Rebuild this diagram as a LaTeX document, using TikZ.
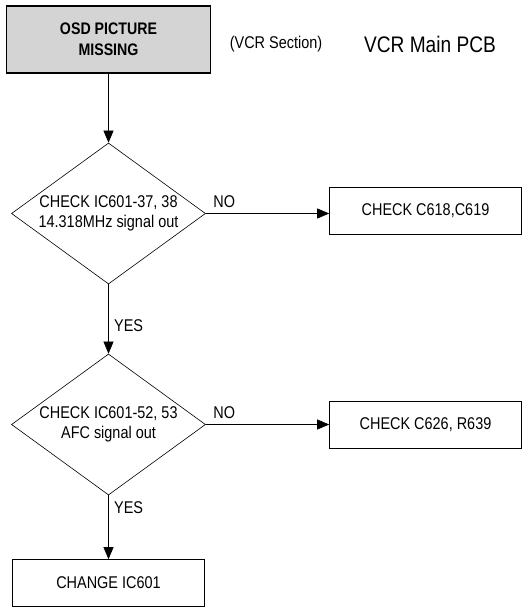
\documentclass[tikz,border=0pt]{standalone}
\usepackage{fontspec}
\setmainfont[FakeStretch=0.85]{Liberation Sans}
\usetikzlibrary{positioning,shapes.geometric,arrows.meta}

\tikzset{
  flow/.style={draw, line width=0.6pt, inner sep=0pt, align=center, font=\fontsize{17}{20}\selectfont},
  startbox/.style={flow, line width=1.6pt, fill=black!17, minimum width=204pt, minimum height=67pt, font=\fontsize{16.7}{21}\selectfont\bfseries},
  checkbox/.style={flow, minimum width=192pt, minimum height=47pt},
  decision/.style={flow, diamond, aspect=1.376, minimum width=194pt, minimum height=141pt},
  tip/.style={line width=0.6pt, -{Triangle[length=12pt,width=10pt]}},
  lbl/.style={font=\fontsize{17}{20}\selectfont}
}

\begin{document}
\begin{tikzpicture}[x=1pt, y=-1pt]
\useasboundingbox (0,0) rectangle (525,609);

\def\xl{108.5}
\def\xr{425.5}

\def\ya{39.5}
\def\yb{213.5}
\def\yc{424.5}
\def\yd{583}

\node[startbox] (osd) at (\xl, \ya) {OSD PICTURE\\MISSING};
\node[lbl] (sect) at (276, 44) {(VCR Section)};
\node[lbl, font=\fontsize{22.5}{24}\selectfont] (pcb) at (430, 44) {VCR Main PCB};

\node[decision] (d1) at (\xl, \yb) {CHECK IC601-37, 38\\14.318MHz signal out};
\node[checkbox] (c1) at (\xr, 211) {CHECK C618,C619};

\node[decision] (d2) at (\xl, \yc) {CHECK IC601-52, 53\\AFC signal out};
\node[checkbox] (c2) at (\xr, \yc) {CHECK C626, R639};

\node[checkbox] (chg) at (\xl, \yd) {CHANGE IC601};

\draw[tip] (osd) -- (d1);
\draw[tip] (d1.east) -- (d1.east -| c1.west) node[lbl, pos=0.15, above, yshift=2pt] {NO};
\draw[tip] (d1) -- node[lbl, right, xshift=2pt, pos=0.6] {YES} (d2);
\draw[tip] (d2.east) -- (c2.west) node[lbl, pos=0.15, above, yshift=2pt] {NO};
\draw[tip] (d2) -- node[lbl, right, xshift=2pt, pos=0.2] {YES} (chg);

\end{tikzpicture}
\end{document}
